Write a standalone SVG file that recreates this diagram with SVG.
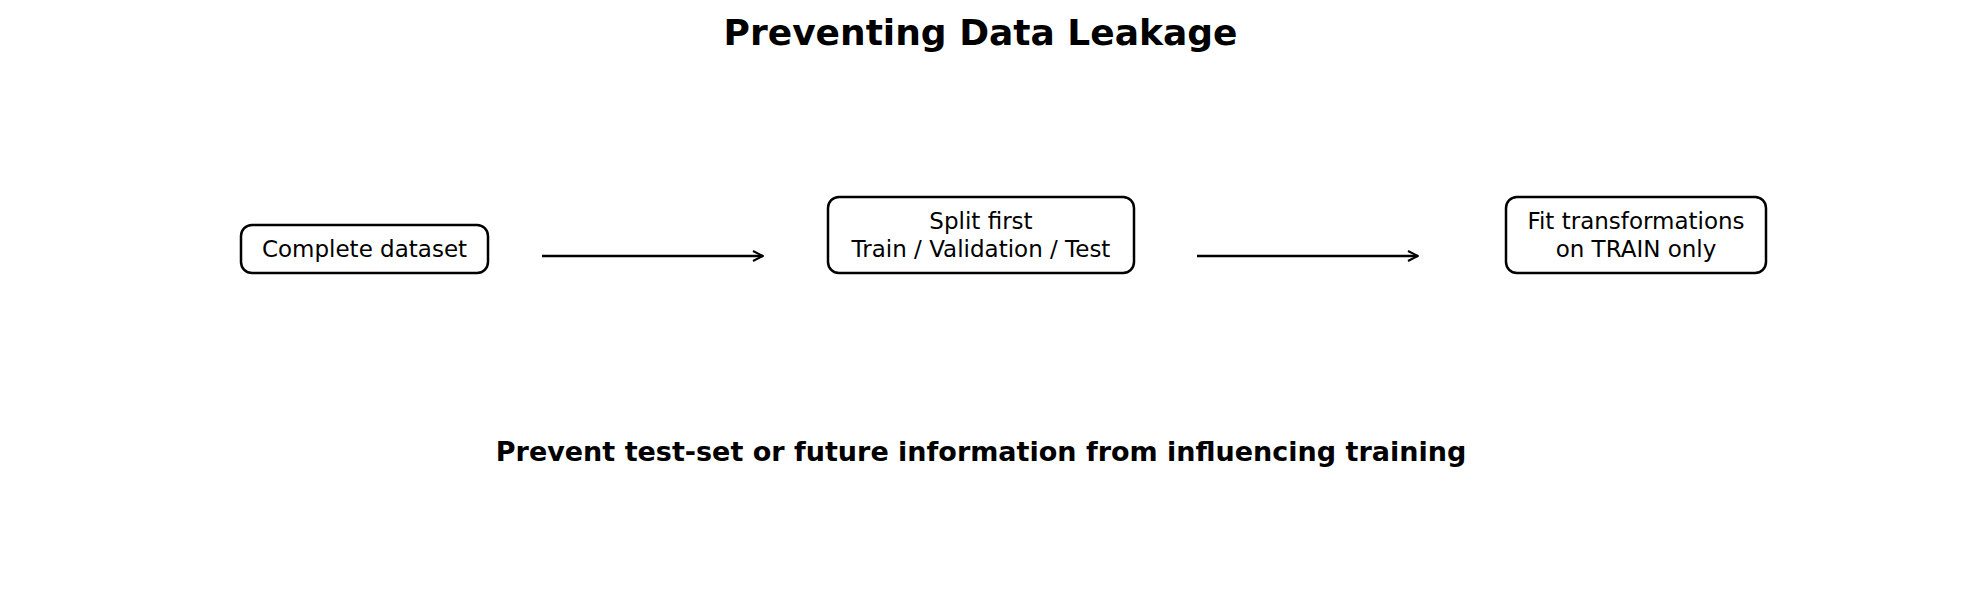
<svg xmlns="http://www.w3.org/2000/svg" width="1961" height="593" viewBox="0 0 1961 593">
<defs>
<style>
.box{fill:#fff;stroke:#000;stroke-width:2.5}
.t{font-family:"DejaVu Sans",sans-serif;font-size:23px;text-anchor:middle;fill:#000}
.b{font-family:"DejaVu Sans",sans-serif;font-weight:bold;text-anchor:middle;fill:#000}
.c{stroke:#000;stroke-width:2.5;fill:none;marker-end:url(#ah)}
</style>
<marker id="ah" viewBox="0 0 12 12" refX="11" refY="6" markerWidth="12" markerHeight="12" markerUnits="userSpaceOnUse" orient="auto">
<path d="M1,1 L11,6 L1,11" fill="none" stroke="#000" stroke-width="2"/>
</marker>
</defs>
<rect width="1961" height="593" fill="#fff"/>
<text class="b" x="980.5" y="45" font-size="36">Preventing Data Leakage</text>
<g id="connectors">
<line class="c" x1="542" y1="256" x2="763" y2="256"/>
<line class="c" x1="1197" y1="256" x2="1418" y2="256"/>
</g>
<g id="n1"><rect class="box" x="241" y="225" width="247" height="48" rx="11"/><text class="t" x="364.5" y="257">Complete dataset</text></g>
<g id="n2"><rect class="box" x="828" y="197" width="306" height="76" rx="11"/><text class="t" x="981" y="229">Split first</text><text class="t" x="981" y="257">Train / Validation / Test</text></g>
<g id="n3"><rect class="box" x="1506" y="197" width="260" height="76" rx="11"/><text class="t" x="1636" y="229">Fit transformations</text><text class="t" x="1636" y="257">on TRAIN only</text></g>
<text class="b" x="981" y="461" font-size="27">Prevent test-set or future information from influencing training</text>
</svg>
